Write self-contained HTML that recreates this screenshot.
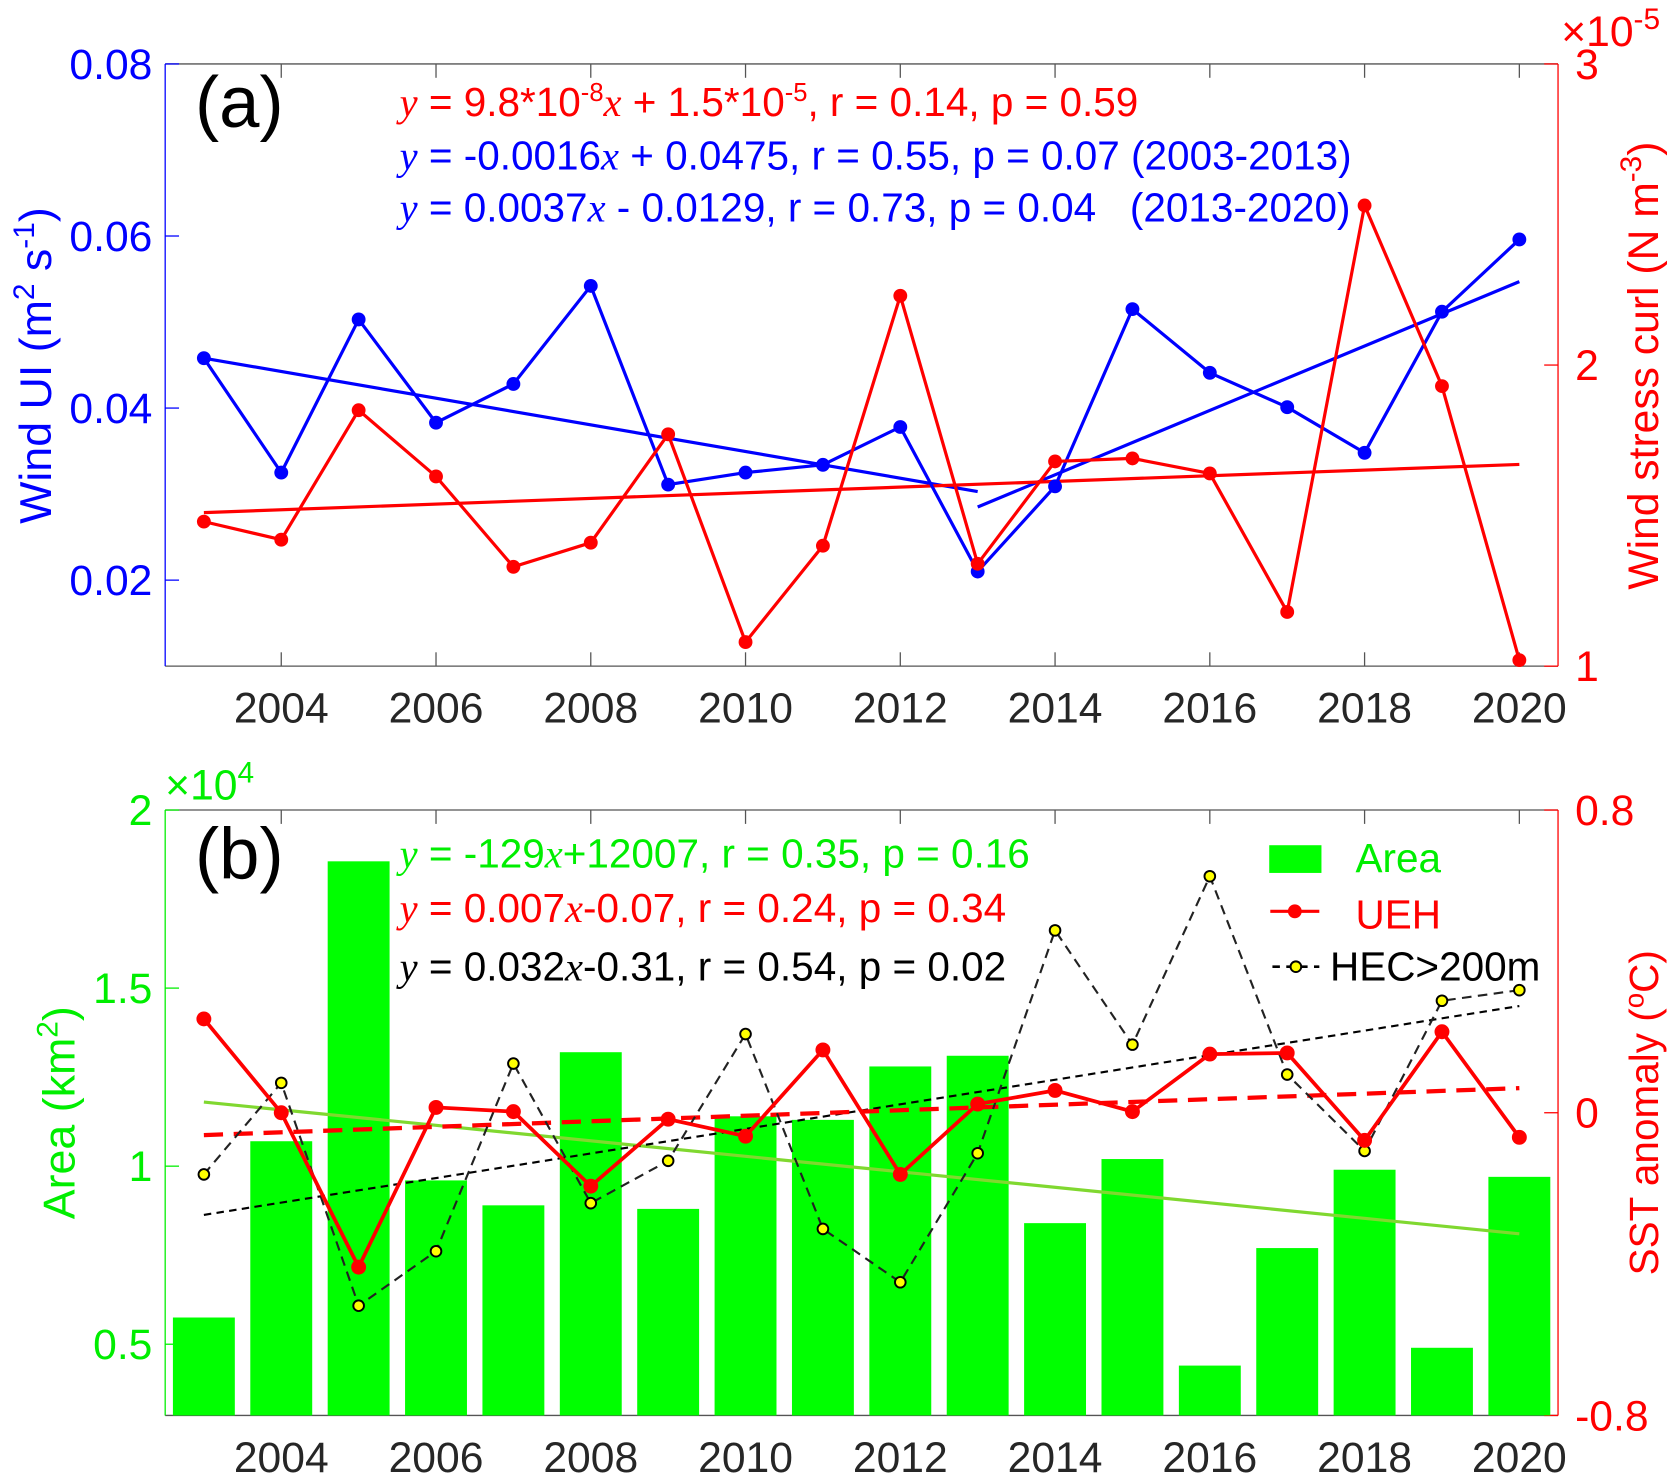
<!DOCTYPE html>
<html><head><meta charset="utf-8"><style>
html,body{margin:0;padding:0;background:#fff;}
svg{display:block;font-family:"Liberation Sans",Arial,sans-serif;}
</style></head><body>
<svg id="chart" width="1671" height="1473" viewBox="0 0 1568 1382" preserveAspectRatio="none" xmlns="http://www.w3.org/2000/svg"></svg>
<script>
const years=[2003,2004,2005,2006,2007,2008,2009,2010,2011,2012,2013,2014,2015,2016,2017,2018,2019,2020];
const windUI=[0.0458,0.0325,0.0503,0.0383,0.0428,0.0542,0.0311,0.0325,0.0334,0.0378,0.0210,0.0309,0.0515,0.0441,0.0401,0.0348,0.0512,0.0596];
const curl=[1.48,1.42,1.85,1.63,1.33,1.41,1.77,1.08,1.40,2.23,1.34,1.68,1.69,1.64,1.18,2.53,1.93,1.02];
const uiTrend1=[[2003,0.0458],[2013,0.0303]];
const uiTrend2=[[2013,0.0285],[2020,0.0547]];
const curlTrend=[[2003,1.51],[2020,1.67]];
const area=[0.575,1.07,1.856,0.96,0.89,1.32,0.88,1.14,1.13,1.28,1.31,0.84,1.02,0.44,0.77,0.99,0.49,0.97];
const ueh=[0.248,0,-0.408,0.014,0.003,-0.194,-0.017,-0.062,0.166,-0.163,0.023,0.059,0.003,0.155,0.158,-0.073,0.214,-0.065];
const hec=[-0.163,0.079,-0.51,-0.366,0.130,-0.239,-0.127,0.208,-0.307,-0.448,-0.107,0.482,0.180,0.625,0.101,-0.101,0.296,0.324];
const areaTrend=[[2003,1.18],[2020,0.81]];
const uehTrend=[[2003,-0.059],[2020,0.065]];
const hecTrend=[[2003,-0.270],[2020,0.282]];
const xTicks=[2004,2006,2008,2010,2012,2014,2016,2018,2020];
const uiTicks=['0.02','0.04','0.06','0.08'];
const curlTicks=[1,2,3];
const areaTicks=[0.5,1,1.5,2];
const sstTicks=[-0.8,0,0.8];

const svg=document.getElementById('chart');
const NS='http://www.w3.org/2000/svg';
function el(tag,attrs,parent){const e=document.createElementNS(NS,tag);for(const k in attrs)e.setAttribute(k,attrs[k]);(parent||svg).appendChild(e);return e;}
const L=155,R=1462;
const xs=v=>L+(v-2002.5)/18*(R-L);
const A={top:60,bot:625},B={top:760,bot:1328};
const yUI=v=>A.bot-(v-0.01)/0.07*(A.bot-A.top);
const yCurl=v=>A.bot-(v-1)/2*(A.bot-A.top);
const yArea=v=>B.bot-(v-0.3)/1.7*(B.bot-B.top);
const ySST=v=>B.bot-(v+0.8)/1.6*(B.bot-B.top);
const GR='#262626';

function txt(x,y,s,attrs,name){const t=el('text',Object.assign({x:x,y:y},attrs));t.innerHTML=s;


return t;}
function poly(pts,attrs,name){const p=el('polyline',Object.assign({points:pts.map(q=>q.join(',')).join(' '),fill:'none'},attrs));


return p;}

function axes(P,leftC,rightC,yl,yr,lt,rt,pre){
  const g=el('g',{});
  
  
  el('line',{x1:L,y1:P.top,x2:R,y2:P.top,stroke:'#555','stroke-width':1.2},g);
  el('line',{x1:L,y1:P.bot,x2:R,y2:P.bot,stroke:'#555','stroke-width':1.2},g);
  el('line',{x1:L,y1:P.top,x2:L,y2:P.bot,stroke:leftC,'stroke-width':1.2},g);
  el('line',{x1:R,y1:P.top,x2:R,y2:P.bot,stroke:rightC,'stroke-width':1.2},g);
  xTicks.forEach(v=>{const x=xs(v);
    el('line',{x1:x,y1:P.bot,x2:x,y2:P.bot-13,stroke:'#555','stroke-width':1.2},g);
    el('line',{x1:x,y1:P.top,x2:x,y2:P.top+13,stroke:'#555','stroke-width':1.2},g);
    txt(x,P.bot+53,v,{'text-anchor':'middle','font-size':40,fill:GR},pre+'-x-tick-label');});
  lt.forEach(v=>{const y=yl(Number(v));
    el('line',{x1:L,y1:y,x2:L+13,y2:y,stroke:leftC,'stroke-width':1.2},g);
    txt(L-12,y+14,String(v),{'text-anchor':'end','font-size':40,fill:leftC},pre+'-left-tick-label');});
  rt.forEach(v=>{const y=yr(v);
    el('line',{x1:R,y1:y,x2:R-13,y2:y,stroke:rightC,'stroke-width':1.2},g);
    txt(R+16,y+14,String(v),{'text-anchor':'start','font-size':40,fill:rightC},pre+'-right-tick-label');});
}
axes(A,'#0000ff','#ff0000',yUI,yCurl,uiTicks,curlTicks,'a');
axes(B,'#00ee00','#ff0000',yArea,ySST,areaTicks,sstTicks,'b');

// panel a series
poly(uiTrend1.map(d=>[xs(d[0]),yUI(d[1])]),{stroke:'#0000ff','stroke-width':3},'ui-trend-2003-2013');
poly(uiTrend2.map(d=>[xs(d[0]),yUI(d[1])]),{stroke:'#0000ff','stroke-width':3},'ui-trend-2013-2020');
poly(curlTrend.map(d=>[xs(d[0]),yCurl(d[1])]),{stroke:'#ff0000','stroke-width':3},'curl-trend');
poly(years.map((y,i)=>[xs(y),yUI(windUI[i])]),{stroke:'#0000ff','stroke-width':3},'wind-ui-line');
years.forEach((y,i)=>{const c=el('circle',{cx:xs(y),cy:yUI(windUI[i]),r:6.5,fill:'#0000ff'});

});
poly(years.map((y,i)=>[xs(y),yCurl(curl[i])]),{stroke:'#ff0000','stroke-width':3},'curl-line');
years.forEach((y,i)=>{const c=el('circle',{cx:xs(y),cy:yCurl(curl[i]),r:6.5,fill:'#ff0000'});

});

// panel b series
const bw=0.8*(R-L)/18;
years.forEach((y,i)=>{const t=yArea(area[i]);const r=el('rect',{x:xs(y)-bw/2,y:t,width:bw,height:B.bot-t,fill:'#00ff00'});

});
poly(areaTrend.map(d=>[xs(d[0]),yArea(d[1])]),{stroke:'#80d830','stroke-width':3},'area-trend');
poly(hecTrend.map(d=>[xs(d[0]),ySST(d[1])]),{stroke:'#000','stroke-width':2,'stroke-dasharray':'7,5'},'hec-trend');
poly(uehTrend.map(d=>[xs(d[0]),ySST(d[1])]),{stroke:'#ff0000','stroke-width':4,'stroke-dasharray':'18,10'},'ueh-trend');
poly(years.map((y,i)=>[xs(y),ySST(hec[i])]),{stroke:'#222','stroke-width':2,'stroke-dasharray':'9,6'},'hec-line');
years.forEach((y,i)=>{const c=el('circle',{cx:xs(y),cy:ySST(hec[i]),r:5,fill:'#ffff00',stroke:'#000','stroke-width':1.8});

});
poly(years.map((y,i)=>[xs(y),ySST(ueh[i])]),{stroke:'#ff0000','stroke-width':3.5},'ueh-line');
years.forEach((y,i)=>{const c=el('circle',{cx:xs(y),cy:ySST(ueh[i]),r:7,fill:'#ff0000'});

});

// labels
txt(183,119,'(a)',{'font-size':68,fill:'#000'},'panel-a-label');
txt(183,824,'(b)',{'font-size':68,fill:'#000'},'panel-b-label');
const I='<tspan font-family="Liberation Serif" font-style="italic">';
txt(375,109,I+'y</tspan> = 9.8*10<tspan font-size="24" dy="-14">-8</tspan><tspan dy="14">'+I+'x</tspan></tspan> + 1.5*10<tspan font-size="24" dy="-14">-5</tspan><tspan dy="14">, r = 0.14, p = 0.59</tspan>',{'font-size':38,fill:'#ff0000'},'curl-equation');
txt(375,159,I+'y</tspan> = -0.0016'+I+'x</tspan> + 0.0475, r = 0.55, p = 0.07 (2003-2013)',{'font-size':38,fill:'#0000ff'},'ui-equation-1');
txt(375,208,I+'y</tspan> = 0.0037'+I+'x</tspan> - 0.0129, r = 0.73, p = 0.04 &#160;&#160;(2013-2020)',{'font-size':38,fill:'#0000ff'},'ui-equation-2');
txt(375,814,I+'y</tspan> = -129'+I+'x</tspan>+12007, r = 0.35, p = 0.16',{'font-size':38,fill:'#00ee00'},'area-equation');
txt(375,865,I+'y</tspan> = 0.007'+I+'x</tspan>-0.07, r = 0.24, p = 0.34',{'font-size':38,fill:'#ff0000'},'ueh-equation');
txt(375,920,I+'y</tspan> = 0.032'+I+'x</tspan>-0.31, r = 0.54, p = 0.02',{'font-size':38,fill:'#000'},'hec-equation');
// multipliers
txt(1465,43,'×10<tspan font-size="28" dy="-16">-5</tspan>',{'font-size':40,fill:'#ff0000'},'right-exponent-a');
txt(155,750,'×10<tspan font-size="28" dy="-16">4</tspan>',{'font-size':40,fill:'#00ee00'},'left-exponent-b');
// axis titles
txt(48,343,'Wind UI (m<tspan font-size="28" dy="-16">2</tspan><tspan dy="16"> s</tspan><tspan font-size="28" dy="-16">-1</tspan><tspan dy="16">)</tspan>',{'font-size':42,fill:'#0000ff','text-anchor':'middle',transform:'rotate(-90 48 343)'},'left-axis-title-a');
txt(1556,343,'Wind stress curl (N m<tspan font-size="28" dy="-16">-3</tspan><tspan dy="16">)</tspan>',{'font-size':40,fill:'#ff0000','text-anchor':'middle',transform:'rotate(-90 1556 343)'},'right-axis-title-a');
txt(70,1044,'Area (km<tspan font-size="28" dy="-16">2</tspan><tspan dy="16">)</tspan>',{'font-size':42,fill:'#00ee00','text-anchor':'middle',transform:'rotate(-90 70 1044)'},'left-axis-title-b');
txt(1556,1044,'SST anomaly (<tspan font-size="26" dy="-14">o</tspan><tspan dy="14">C)</tspan>',{'font-size':38,fill:'#ff0000','text-anchor':'middle',transform:'rotate(-90 1556 1044)'},'right-axis-title-b');
// legend
const lg=el('g',{});


el('rect',{x:1191,y:793,width:49,height:26,fill:'#00ff00'},lg);
txt(1272,818,'Area',{'font-size':38,fill:'#00ee00'},'legend-area');
el('line',{x1:1192,y1:855,x2:1238,y2:855,stroke:'#ff0000','stroke-width':3},lg);
el('circle',{cx:1215,cy:855,r:6.5,fill:'#ff0000'},lg);
txt(1272,871,'UEH',{'font-size':38,fill:'#ff0000'},'legend-ueh');
el('line',{x1:1194,y1:907,x2:1238,y2:907,stroke:'#000','stroke-width':2.5,'stroke-dasharray':'7,6'},lg);
el('circle',{cx:1216,cy:907,r:5,fill:'#ffff00',stroke:'#000','stroke-width':1.8},lg);
txt(1248,920,'HEC&gt;200m',{'font-size':38,fill:'#000'},'legend-hec');
</script>
</body></html>
